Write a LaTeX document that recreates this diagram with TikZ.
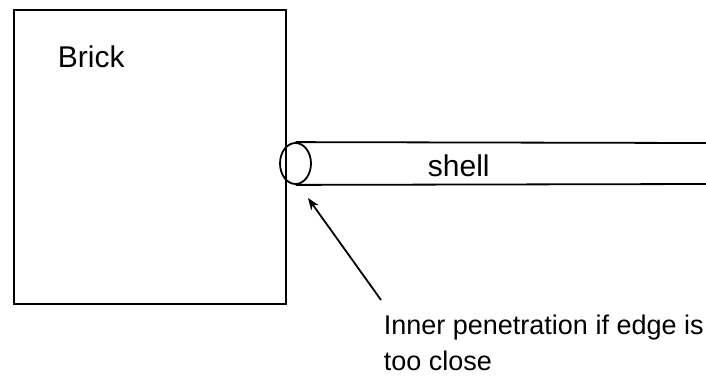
\documentclass[tikz,border=0pt]{standalone}
\usepackage{fontspec}
\setmainfont{Liberation Sans}
\usetikzlibrary{shapes.geometric,arrows.meta}

\begin{document}
\begin{tikzpicture}[x=1bp,y=-1bp,line width=1.8bp,
	label/.style={inner sep=0pt,font=\fontsize{30bp}{38bp}\selectfont},
	note/.style={inner sep=0pt,font=\fontsize{27bp}{36bp}\selectfont}]
	\useasboundingbox (0,0) rectangle (706,377);
	\node[draw,rectangle,minimum width=272bp,minimum height=294bp,inner sep=0pt] (brick) at (150,157) {};
	\node[label,anchor=base west] (bricktext) at (57,67) {Brick};
	\node[draw,ellipse,minimum width=31bp,minimum height=41bp,inner sep=0pt] (rim) at (295.5,163.5) {};
	\coordinate (endtop) at (706,143);
	\coordinate (endbot) at (706,184);
	\draw (rim.north) -- (endtop);
	\draw (rim.south) -- (endbot);
	\node[label,anchor=base west] (shell) at (427,176) {shell};
	\node[note,anchor=north west,align=left] (remark) at (383,314) {Inner penetration if edge is\\too close};
	\coordinate (tail) at (381,300);
	\coordinate (tip) at (308,198);
	\draw[-{Stealth[length=12bp,width=9bp]}] (tail) -- (tip);
\end{tikzpicture}
\end{document}
